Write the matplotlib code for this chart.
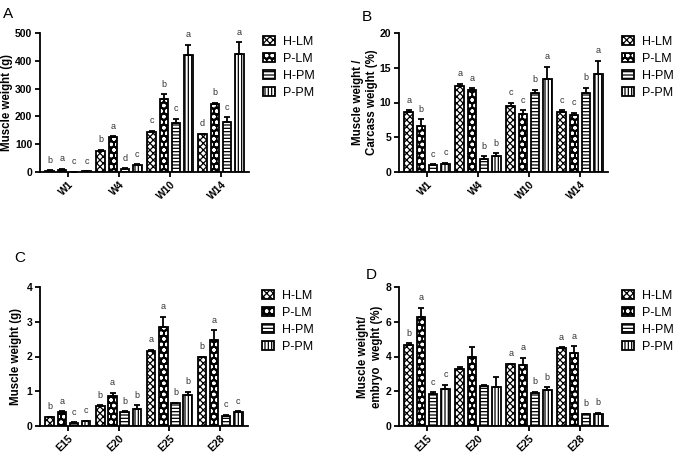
import matplotlib
matplotlib.use("Agg")
import matplotlib.pyplot as plt
import numpy as np

plt.rcParams['font.family'] = ['Liberation Sans', 'DejaVu Sans']
plt.rcParams['hatch.linewidth'] = 0.9

series = ["H-LM", "P-LM", "H-PM", "P-PM"]
weeks = ["W1", "W4", "W10", "W14"]
embryo = ["E15", "E20", "E25", "E28"]

# Panel A: muscle weight (g)
a_mean = [[5, 75, 145, 135], [8, 125, 263, 243], [1, 12, 175, 180], [2, 24, 422, 425]]
a_err = [[1, 4, 3, 3], [3, 3, 16, 6], [0.5, 2, 16, 17], [0.5, 3, 36, 42]]
a_let = [["b", "b", "c", "d"], ["a", "a", "b", "b"], ["c", "d", "c", "c"], ["c", "c", "a", "a"]]

# Panel B: muscle weight / carcass weight (%)
b_mean = [[8.6, 12.4, 9.55, 8.65], [6.6, 11.85, 8.35, 8.2], [1.0, 1.8, 11.4, 11.3], [1.2, 2.35, 13.45, 14.1]]
b_err = [[0.3, 0.3, 0.4, 0.25], [1.0, 0.2, 0.5, 0.3], [0.1, 0.45, 0.4, 0.8], [0.15, 0.35, 1.7, 1.9]]
b_let = [["a", "a", "c", "c"], ["b", "a", "c", "c"], ["c", "b", "b", "b"], ["c", "b", "a", "a"]]

# Panel C: muscle weight (g), embryo
c_mean = [[0.25, 0.58, 2.17, 1.98], [0.41, 0.85, 2.85, 2.48], [0.10, 0.41, 0.65, 0.30], [0.135, 0.48, 0.88, 0.41]]
c_err = [[0.01, 0.02, 0.03, 0.02], [0.02, 0.11, 0.30, 0.27], [0.01, 0.01, 0.02, 0.02], [0.01, 0.12, 0.10, 0.02]]
c_let = [["b", "b", "a", "b"], ["a", "a", "a", "a"], ["c", "b", "b", "c"], ["c", "b", "b", "c"]]

# Panel D: muscle weight / embryo weight (%)
d_mean = [[4.67, 3.3, 3.54, 4.5], [6.27, 4.0, 3.52, 4.2], [1.85, 2.3, 1.92, 0.67], [2.12, 2.23, 2.06, 0.71]]
d_err = [[0.1, 0.1, 0.05, 0.03], [0.55, 0.55, 0.42, 0.4], [0.1, 0.08, 0.04, 0.03], [0.25, 0.58, 0.17, 0.06]]
d_let = [["b", "", "a", "a"], ["a", "", "a", "a"], ["c", "", "b", "b"], ["c", "", "b", "b"]]

W, H = 676, 455
fig = plt.figure(figsize=(W / 100, H / 100), dpi=100)


def make_ax(left, right, top, bottom):
    return fig.add_axes([left / W, 1 - bottom / H, (right - left) / W, (bottom - top) / H])


def draw_series(ax, xs, m, i):
    bw = 0.17
    if i == 1:
        # black fill with white dots, then black outline
        base = ax.bar(xs, m, width=bw, facecolor="black", edgecolor="white", linewidth=0,
                      hatch="ooo", zorder=2)
        outline = ax.bar(xs, m, width=bw, facecolor="none", edgecolor="black",
                         linewidth=1.3, zorder=2.5)
        return (base, outline)
    hatch = {0: "xxxxx", 2: "-----", 3: "|||||"}[i]
    return ax.bar(xs, m, width=bw, facecolor="white", edgecolor="black",
                  linewidth=1.3, hatch=hatch, zorder=2)


def panel(ax, cats, mean, err, lets, ymax, ystep, ylabel, labx):
    x = np.arange(len(cats))
    offs = [-0.36, -0.12, 0.12, 0.36]
    handles = []
    for i in range(4):
        m = np.array(mean[i]); e = np.array(err[i])
        handles.append(draw_series(ax, x + offs[i], m, i))
        ax.errorbar(x + offs[i], m, yerr=[np.zeros_like(e), e], fmt="none", ecolor="black",
                    elinewidth=1.3, capsize=2.5, capthick=1.3, zorder=3)
        for j in range(len(cats)):
            if lets[i][j]:
                ax.annotate(lets[i][j], (x[j] + offs[i], m[j] + e[j]), xytext=(0, 4),
                            textcoords="offset points", ha="center", va="bottom",
                            fontsize=6.5, color="#333333")
    ax.set_xlim(-0.55, 3.55)
    ax.set_ylim(0, ymax)
    ax.set_yticks(np.arange(0, ymax + ystep / 2, ystep))
    ax.set_xticks(x)
    ax.set_xticklabels(cats, rotation=45, ha="right", rotation_mode="anchor",
                       fontweight="bold", fontsize=7.5)
    for lab in ax.get_yticklabels():
        lab.set_fontweight("bold")
        lab.set_fontsize(7.5)
    ax.set_ylabel(ylabel, fontweight="bold", fontsize=8.3)
    ax.yaxis.set_label_coords(labx, 0.5)
    for s in ["top", "right"]:
        ax.spines[s].set_visible(False)
    for s in ["left", "bottom"]:
        ax.spines[s].set_linewidth(1.3)
    ax.tick_params(width=1.3, length=3.5, pad=2)
    ax.legend(handles, series, loc="upper left", bbox_to_anchor=(1.065, 0.98), frameon=False,
              fontsize=9, handlelength=1.0, handleheight=0.7, handletextpad=0.6,
              labelspacing=0.4, borderaxespad=0, borderpad=0)


axA = make_ax(40, 249, 33, 172)
panel(axA, weeks, a_mean, a_err, a_let, 500, 100, "Muscle weight (g)", -0.13)
axB = make_ax(399, 608, 33, 172)
panel(axB, weeks, b_mean, b_err, b_let, 20, 5, "Muscle weight /\nCarcass weight (%)", -0.10)
axC = make_ax(40, 248, 287, 426)
panel(axC, embryo, c_mean, c_err, c_let, 4, 1, "Muscle weight (g)", -0.085)
axD = make_ax(399, 608, 287, 426)
panel(axD, embryo, d_mean, d_err, d_let, 8, 2, "Muscle weight/\nembryo  weght (%)", -0.078)

fig.text(3 / W, 1 - 14 / H, "A", fontsize=11, va="center", ha="left")
fig.text(362 / W, 1 - 17 / H, "B", fontsize=11, va="center", ha="left")
fig.text(14 / W, 1 - 258 / H, "C", fontsize=11, va="center", ha="left")
fig.text(366 / W, 1 - 275 / H, "D", fontsize=11, va="center", ha="left")

fig.savefig("out.png", dpi=100)
